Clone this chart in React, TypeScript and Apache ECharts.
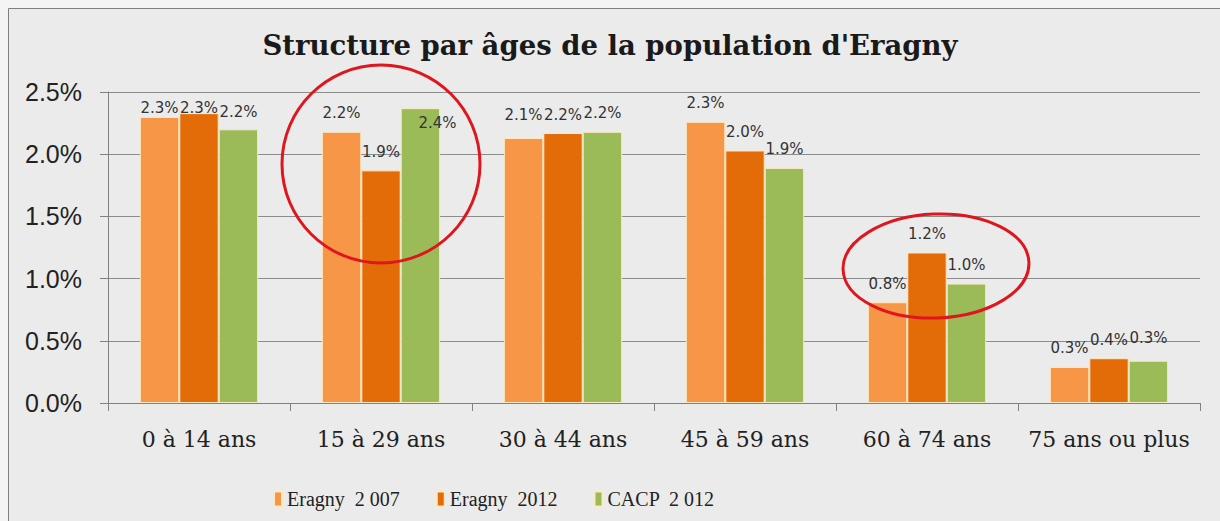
import React, { useEffect, useRef } from "react";
import * as echarts from "echarts";

const titleText = "Structure par âges de la population d'Eragny";
const categories = ["0 à 14 ans", "15 à 29 ans", "30 à 44 ans", "45 à 59 ans", "60 à 74 ans", "75 ans ou plus"];
const seriesNames = ["Eragny  2 007", "Eragny  2012", "CACP  2 012"];
const eragny2007 = [2.30, 2.18, 2.13, 2.26, 0.81, 0.29];
const eragny2012 = [2.33, 1.87, 2.17, 2.03, 1.21, 0.36];
const cacp2012 = [2.20, 2.37, 2.18, 1.89, 0.96, 0.34];
const yMin = 0;
const yMax = 2.5;
const yStep = 0.5;

const colors = ["#f79646", "#e36c09", "#9bbb59"];
// label nudges (px) per series per category, to mimic the original label placement
const labelNudges = [
  [[0, 10], [0, 0], [0, -5], [0, 0], [0, 0], [0, 0]],
  [[0, 13], [0, 0], [0, 0], [0, 0], [0, 0], [0, 0]],
  [[0, 1], [17, 33], [0, 0], [0, 0], [0, 0], [0, -4]],
];

export default function App() {
  const ref = useRef<HTMLDivElement>(null);
  useEffect(() => {
    if (!ref.current) return;
    const chart = echarts.init(ref.current, null, { renderer: "svg" });
    const values = [eragny2007, eragny2012, cacp2012];
    const series = values.map((vals, si) => ({
      name: seriesNames[si],
      type: "bar",
      barGap: "0%",
      barCategoryGap: "35%",
      itemStyle: { color: colors[si], borderColor: "#fbe9c4", borderWidth: 1 },
      label: {
        show: true,
        position: "top",
        distance: 11,
        fontFamily: "DejaVu Sans",
        fontSize: 15,
        color: "#333",
        formatter: (p: any) => p.value.toFixed(1) + "%",
      },
      data: vals.map((v, ci) => ({
        value: v,
        label: { offset: labelNudges[si][ci] },
      })),
    }));
    chart.setOption({
      animation: false,
      backgroundColor: "#f4f4f4",
      title: {
        text: titleText,
        left: "center",
        top: 26,
        textStyle: { fontFamily: "DejaVu Serif", fontWeight: "bold", fontSize: 27.5, color: "#1a1a1a" },
      },
      graphic: [
        {
          type: "rect",
          z: -10,
          shape: { x: 8.5, y: 8.5, width: 1240, height: 540 },
          style: { fill: "#ebebeb", stroke: "#7f7f7f", lineWidth: 1 },
          silent: true,
        },
        {
          type: "ellipse",
          z: 100,
          shape: { cx: 381, cy: 164, rx: 99, ry: 99 },
          style: { fill: "none", stroke: "#e0161e", lineWidth: 3 },
          silent: true,
        },
        {
          type: "ellipse",
          z: 100,
          x: 936,
          y: 266,
          rotation: 0.04,
          shape: { cx: 0, cy: 0, rx: 93, ry: 52 },
          style: { fill: "none", stroke: "#e0161e", lineWidth: 3 },
          silent: true,
        },
      ],
      legend: {
        bottom: 7,
        left: 268,
        itemWidth: 8,
        itemHeight: 15,
        itemGap: 36,
        icon: "rect",
        textStyle: { fontFamily: "Liberation Serif", fontSize: 20, color: "#222" },
        data: seriesNames,
      },
      grid: { left: 108, right: 20, top: 92, bottom: 118 },
      xAxis: {
        type: "category",
        data: categories,
        axisLine: { lineStyle: { color: "#808080" } },
        axisTick: { show: true, length: 8, lineStyle: { color: "#808080" } },
        axisLabel: { interval: 0, fontFamily: "DejaVu Serif", fontSize: 22, color: "#222", margin: 25 },
      },
      yAxis: {
        type: "value",
        min: yMin,
        max: yMax,
        interval: yStep,
        axisLine: { show: true, lineStyle: { color: "#808080" } },
        axisTick: { show: true, length: 8, lineStyle: { color: "#808080" } },
        splitLine: { lineStyle: { color: "#8c8c8c" } },
        axisLabel: {
          fontFamily: "Liberation Sans",
          fontSize: 25,
          color: "#222",
          margin: 26,
          formatter: (v: number) => v.toFixed(1) + "%",
        },
      },
      series,
    });
    return () => chart.dispose();
  }, []);
  return <div ref={ref} style={{ position: "fixed", left: 0, top: 0, width: 1220, height: 521 }} />;
}
